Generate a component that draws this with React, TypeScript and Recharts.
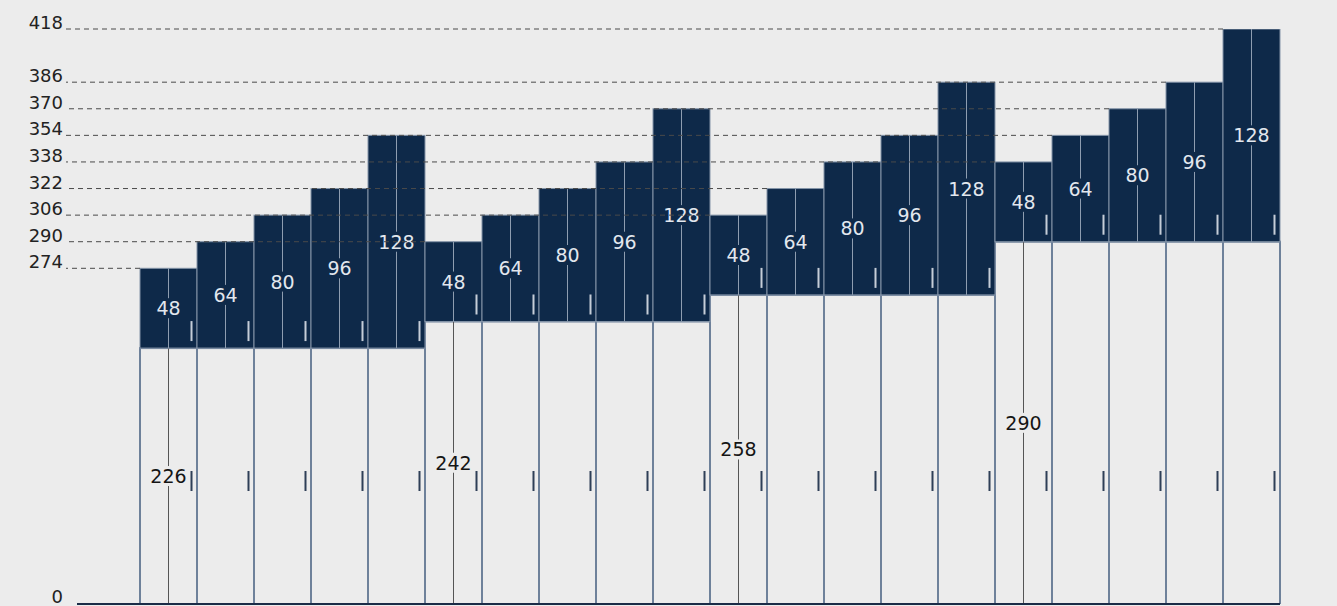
import React from 'react';
import { ComposedChart, Bar, XAxis, YAxis, ReferenceLine } from 'recharts';

// ---- data ----
const barNames = ['B1', 'B2', 'B3', 'B4', 'B5', 'B6', 'B7', 'B8', 'B9', 'B10', 'B11', 'B12', 'B13', 'B14', 'B15', 'B16', 'B17', 'B18', 'B19', 'B20'];
const baseValues = [226, 226, 226, 226, 226, 242, 242, 242, 242, 242, 258, 258, 258, 258, 258, 290, 290, 290, 290, 290];
const topValues = [48, 64, 80, 96, 128, 48, 64, 80, 96, 128, 48, 64, 80, 96, 128, 48, 64, 80, 96, 128];
const baseLabelShown = [true, false, false, false, false, true, false, false, false, false, true, false, false, false, false, true, false, false, false, false];
const yTicks = [0, 274, 290, 306, 322, 338, 354, 370, 386, 418];
const yDomain: [number, number] = [72, 418];

const data = barNames.map((name, i) => ({ name, slot: i, base: baseValues[i], top: topValues[i] }));

// for each tick value, the last bar whose stacked total reaches it
const guideLines = yTicks
  .filter((t) => t > 0)
  .map((t) => {
    let last = -1;
    data.forEach((d, i) => {
      if (d.base + d.top === t) last = i;
    });
    return { value: t, lastIndex: last };
  })
  .filter((g) => g.lastIndex >= 0);

// ---- layout / style ----
const W = 1337;
const H = 606;
const MARGIN = { top: 29, right: 57, bottom: 0, left: 0 };
const XAXIS_H = 2;
const YAXIS_W = 66;
const CAT_PAD_LEFT = 74;
const PLOT_BOTTOM = H - MARGIN.bottom - XAXIS_H;
const BAND = (W - MARGIN.left - MARGIN.right - YAXIS_W - CAT_PAD_LEFT) / barNames.length;
// helper numeric x axis spanning the plot: 0 = plot left, one unit = one bar band
const BAR_OFFSET = CAT_PAD_LEFT / BAND;
const NUM_DOMAIN: [number, number] = [0, barNames.length + BAR_OFFSET];
const AXIS_LINE_START = 11 / BAND;

const BG = '#ececec';
const NAVY = '#0e2949';
const FONT = '"DejaVu Sans", sans-serif';

const TopShape = (props: any) => {
  const { x, y, width, height, index } = props;
  if (width == null || height == null) return null;
  const cx = x + width / 2;
  const cy = y + height / 2;
  const bottom = y + height;
  return (
    <g>
      <rect x={x} y={y} width={width} height={height} fill={NAVY} stroke="#8494a8" strokeWidth={1} />
      <line x1={cx} x2={cx} y1={y} y2={cy - 10} stroke="#8e9db0" strokeWidth={1} />
      <line x1={cx} x2={cx} y1={cy + 10} y2={bottom} stroke="#8e9db0" strokeWidth={1} />
      <text x={cx} y={cy} textAnchor="middle" dominantBaseline="central" fill="#e2e7ee" fontSize={19} fontFamily={FONT}>
        {topValues[index]}
      </text>
      <rect x={x + width - 6.5} y={bottom - 27} width={2} height={20} fill="#c5cdd8" />
    </g>
  );
};

const BaseShape = (props: any) => {
  const { x, y, width, height, index } = props;
  if (width == null || height == null) return null;
  const cx = x + width / 2;
  const cy = y + height / 2;
  const bottom = y + height;
  return (
    <g>
      <rect x={x} y={y} width={width} height={height} fill={BG} stroke="#6e819a" strokeWidth={2} />
      {baseLabelShown[index] && (
        <g>
          <line x1={cx} x2={cx} y1={y} y2={cy - 10} stroke="#555" strokeWidth={1} />
          <line x1={cx} x2={cx} y1={cy + 10} y2={bottom} stroke="#555" strokeWidth={1} />
          <text x={cx} y={cy} textAnchor="middle" dominantBaseline="central" fill="#151515" fontSize={19} fontFamily={FONT}>
            {baseValues[index]}
          </text>
        </g>
      )}
      <rect x={x + width - 6.5} y={bottom - 133} width={2} height={20} fill="#2e3f57" />
    </g>
  );
};

const YTick = (props: any) => {
  const { x, y, payload } = props;
  const yy = Math.min(y, PLOT_BOTTOM - 1);
  return (
    <text x={x} y={yy} textAnchor="end" fill="#222" fontSize={18} fontFamily={FONT}>
      {payload.value}
    </text>
  );
};

export default function App() {
  return (
    <div style={{ position: 'fixed', left: 0, top: 0, width: W, height: H, background: BG, fontFamily: FONT }}>
      <ComposedChart width={W} height={H} data={data} margin={MARGIN} barCategoryGap={0} barGap={0}>
        <XAxis
          xAxisId="c"
          dataKey="name"
          height={XAXIS_H}
          padding={{ left: CAT_PAD_LEFT, right: 0 }}
          tick={false}
          tickLine={false}
          axisLine={false}
        />
        <XAxis xAxisId="n" dataKey="slot" type="number" domain={NUM_DOMAIN} allowDataOverflow hide />
        <YAxis
          domain={yDomain}
          allowDataOverflow
          ticks={yTicks}
          interval={0}
          width={YAXIS_W}
          tickLine={false}
          axisLine={false}
          tickSize={1}
          tickMargin={2}
          tick={<YTick />}
        />
        {guideLines.map((g) => (
          <ReferenceLine
            key={g.value}
            xAxisId="n"
            segment={[
              { x: g.lastIndex + BAR_OFFSET, y: g.value },
              { x: 0, y: g.value },
            ]}
            stroke="#4a4a4a"
            strokeWidth={1}
            strokeDasharray="5 4"
            ifOverflow="visible"
          />
        ))}
        <Bar xAxisId="c" dataKey="base" stackId="s" shape={BaseShape} isAnimationActive={false} />
        <Bar xAxisId="c" dataKey="top" stackId="s" shape={TopShape} isAnimationActive={false} />
        <ReferenceLine
          xAxisId="n"
          segment={[
            { x: AXIS_LINE_START, y: yDomain[0] },
            { x: NUM_DOMAIN[1], y: yDomain[0] },
          ]}
          stroke="#1b2c47"
          strokeWidth={2}
          ifOverflow="visible"
        />
      </ComposedChart>
    </div>
  );
}
